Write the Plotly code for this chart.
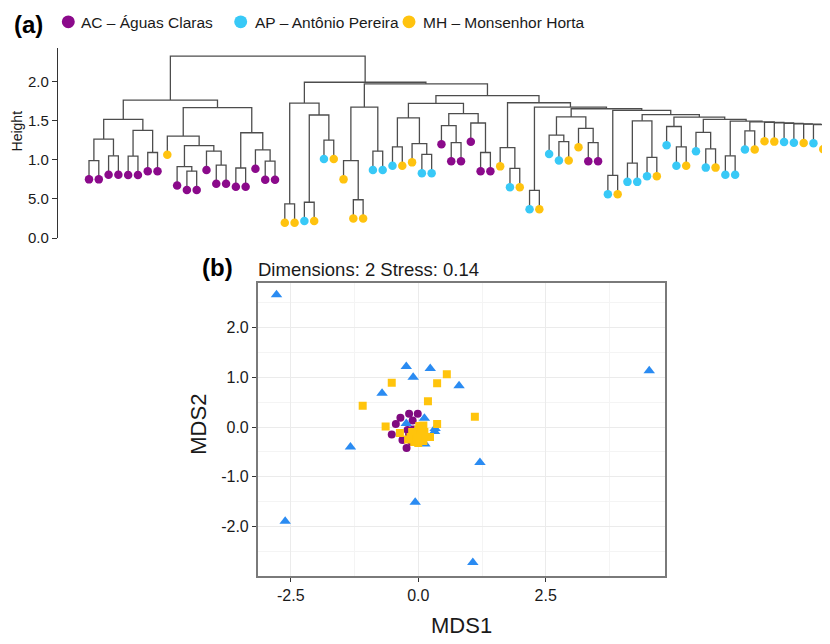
import plotly.graph_objects as go

W, H = 830, 644
FONT = "Liberation Sans, Arial, sans-serif"
OX, OY = 8, 8  # page body margin offset of the rendered html

# ---------------- data: dendrogram (a) ----------------
group_labels = {"AC": "AC – Águas Claras", "AP": "AP – Antônio Pereira", "MH": "MH – Monsenhor Horta"}
dend_colors = {"AC": "#8B0A8B", "AP": "#38C9F7", "MH": "#FFC30F"}

leaf_groups = [
    "AC", "AC", "AC", "AC", "AC", "AC", "AC", "AC", "MH", "AC",
    "AC", "AC", "AC", "AC", "AC", "AC", "AC", "AC", "AC", "AC",
    "MH", "MH", "AP", "MH", "AP", "MH", "MH", "MH", "MH", "AP",
    "AP", "AP", "MH", "MH", "AP", "AP", "AC", "AC", "AC", "AC",
    "AC", "AC", "MH", "AP", "MH", "AP", "MH", "AP", "AP", "MH",
    "MH", "AC", "AC", "AP", "MH", "AP", "AP", "AP", "MH", "AP",
    "AP", "MH", "AP", "AP", "MH", "AP", "AP", "AP", "MH", "MH",
    "MH", "AP", "AP", "MH", "AP", "MH", "MH",
]

# merge rows: child < 100 -> leaf index, child >= 100 -> merge row (child - 100)
merge_left = [0, 2, 4, 6, 100, 102, 104, 10, 9, 13,
              12, 108, 8, 15, 18, 17, 113, 112, 106,
              20, 22, 24, 120, 119, 27, 26, 29, 125, 31, 34,
              33, 128, 37, 36, 40, 39, 133, 131, 43, 42,
              45, 48, 47, 51, 50, 142, 53, 55, 57, 147,
              60, 59, 63, 62, 65, 67, 75, 74, 73, 72,
              71, 70, 69, 155, 154, 153, 151, 149, 146, 145,
              140, 139, 137, 127, 123, 118]
merge_right = [1, 3, 5, 7, 101, 103, 105, 11, 107, 14,
               109, 110, 111, 16, 19, 114, 115, 116, 117,
               21, 23, 25, 121, 122, 28, 124, 30, 126, 32, 35,
               129, 130, 38, 132, 41, 134, 135, 136, 44, 138,
               46, 49, 141, 52, 143, 144, 54, 56, 58, 148,
               61, 150, 64, 152, 66, 68, 76, 156, 157, 158,
               159, 160, 161, 162, 163, 164, 165, 166, 167, 168,
               169, 170, 171, 172, 173, 174]
merge_height = [0.99, 1.05, 1.047, 1.093, 1.265, 1.375, 1.517, 0.854, 0.912, 0.933,
                1.11, 1.18, 1.303, 0.895, 0.984, 1.126, 1.345, 1.665, 1.762,
                0.437, 0.458, 1.25, 1.572, 1.724, 0.49, 0.99, 1.11, 1.673, 1.164, 1.068,
                1.207, 1.535, 1.22, 1.437, 1.093, 1.47, 1.59, 1.72, 0.89, 1.156,
                0.61, 1.232, 1.315, 1.22, 1.40, 1.547, 0.80, 0.958, 1.03, 1.497,
                1.164, 1.425, 1.14, 1.35, 1.05, 1.37, 1.376, 1.45, 1.455, 1.458,
                1.466, 1.472, 1.477, 1.485, 1.494, 1.517, 1.545, 1.576, 1.63, 1.652,
                1.673, 1.728, 1.82, 1.97, 1.99, 2.324]
hang = 0.24
height_ticks = [0.0, 0.5, 1.0, 1.5, 2.0]
height_ticktext = ["0.0", "5.0", "1.0", "1.5", "2.0"]

# ---------------- data: NMDS (b) ----------------
mds_colors = {"AC": "#800A80", "AP": "#2A8BF2", "MH": "#FFC40C"}
mds_symbols = {"AC": "circle", "AP": "triangle-up", "MH": "square"}
ac_x = [-0.18, -0.01, -0.35, -0.11, -0.44, -0.52, -0.31, -0.23, -0.21, -0.10,
        -0.15, -0.05, 0.0, -0.08, -0.12, -0.03, 0.02, -0.06, -0.16, 0.05,
        -0.10, 0.0, -0.02, -0.13, 0.04, -0.07, -0.18]
ac_y = [0.27, 0.27, 0.19, 0.13, 0.06, -0.15, -0.26, -0.42, -0.06, -0.10,
        -0.12, -0.15, -0.20, -0.22, -0.18, -0.08, -0.12, -0.28, -0.26, -0.18,
        -0.05, -0.25, -0.30, -0.30, -0.26, -0.12, -0.15]
ap_x = [-2.78, -2.61, -1.33, -0.71, -0.235, -0.10, 0.235, 0.80, 4.53, 1.21,
        -0.06, 1.07, -0.235, 0.12, 0.33, 0.32, 0.13, 0.0, -0.05, 0.08,
        0.05, -0.10, 0.10, 0.02, -0.03]
ap_y = [2.66, -1.89, -0.40, 0.68, 1.22, 1.00, 1.18, 0.83, 1.13, -0.71,
        -1.51, -2.72, 0.07, 0.18, -0.03, -0.09, -0.34, -0.10, -0.20, -0.05,
        -0.25, -0.15, -0.20, -0.30, -0.05]
mh_x = [-1.09, -0.52, 0.37, 0.56, 0.19, 1.11, -0.64, -0.36, 0.37, 0.23,
        0.10, 0.0, -0.05, -0.15, 0.05, -0.08, 0.0, 0.12, 0.08, -0.12,
        0.02, -0.20, 0.10, -0.02, 0.06]
mh_y = [0.43, 0.89, 0.88, 1.06, 0.52, 0.21, 0.01, -0.12, 0.06, -0.20,
        0.03, -0.05, -0.15, -0.20, -0.22, -0.30, -0.32, -0.10, -0.15, -0.10,
        0.02, -0.25, -0.28, -0.22, -0.02]
mds_x_ticks = [-2.5, 0.0, 2.5]
mds_x_ticktext = ["-2.5", "0.0", "2.5"]
mds_y_ticks = [-2.0, -1.0, 0.0, 1.0, 2.0]
mds_y_ticktext = ["-2.0", "-1.0", "0.0", "1.0", "2.0"]
mds_title = "Dimensions: 2 Stress: 0.14"


# ---------------- helpers (target page px -> paper) ----------------
def px(x):
    return (x - OX) / W


def py(y):
    return 1 - (y - OY) / H


# ---------------- dendrogram geometry from merges ----------------
node_x, node_h = [], []
seg_x, seg_y = [], []
leaf_y = [0.0] * len(leaf_groups)
for a, b, h in zip(merge_left, merge_right, merge_height):
    coords = []
    for c in (a, b):
        if c < 100:
            cx, ch = float(c), h - hang
            leaf_y[c] = ch
        else:
            cx, ch = node_x[c - 100], node_h[c - 100]
        coords.append((cx, ch))
    (xa, ha), (xb, hb) = coords
    seg_x += [xa, xa, xb, xb, None]
    seg_y += [ha, h, h, hb, None]
    node_x.append((xa + xb) / 2)
    node_h.append(h)

fig = go.Figure()
fig.add_trace(go.Scatter(x=seg_x, y=seg_y, mode="lines",
                         line=dict(color="#4d4d4d", width=1.3),
                         xaxis="x", yaxis="y", showlegend=False, hoverinfo="skip"))
for g in ["AC", "AP", "MH"]:
    idx = [i for i, gg in enumerate(leaf_groups) if gg == g]
    fig.add_trace(go.Scatter(x=idx, y=[leaf_y[i] for i in idx], mode="markers",
                             marker=dict(color=dend_colors[g], size=8.5, line=dict(width=0)),
                             xaxis="x", yaxis="y", showlegend=False, cliponaxis=False,
                             name=group_labels[g]))

# ---------------- NMDS ----------------
for g, xs, ys in [("AC", ac_x, ac_y), ("AP", ap_x, ap_y), ("MH", mh_x, mh_y)]:
    fig.add_trace(go.Scatter(x=xs, y=ys, mode="markers",
                             marker=dict(color=mds_colors[g], symbol=mds_symbols[g],
                                         size=10 if g == "AP" else 8, line=dict(width=0)),
                             xaxis="x2", yaxis="y2", showlegend=False, name=group_labels[g]))

# leaf positions: leaf 0 at 89 px, spacing 9.79 px
sp = 9.79
x0px = 89
xa_left = 58
xa_right = W + OX  # right edge of figure in target px

fig.update_layout(
    width=W, height=H, autosize=False,
    margin=dict(l=0, r=0, t=0, b=0),
    paper_bgcolor="white", plot_bgcolor="white",
    font=dict(family=FONT, color="#1a1a1a"),
    xaxis=dict(domain=[px(xa_left), 1.0],
               range=[(xa_left - x0px) / sp, (xa_right - x0px) / sp],
               visible=False, fixedrange=True),
    yaxis=dict(domain=[py(241), py(48)], range=[0, (241 - 48) / 79.3],
               tickmode="array", tickvals=height_ticks, ticktext=height_ticktext,
               ticks="outside", ticklen=5, tickcolor="#333", tickwidth=1,
               showline=True, linecolor="#333", linewidth=1.2,
               showgrid=False, zeroline=False,
               tickfont=dict(size=15, color="#1a1a1a", family=FONT)),
    xaxis2=dict(domain=[px(257.7), px(665)], range=[-3.149, 4.839], anchor="y2",
                tickmode="array", tickvals=mds_x_ticks, ticktext=mds_x_ticktext,
                ticks="outside", ticklen=4, tickcolor="#333",
                showline=True, mirror=True, linecolor="#7a7a7a", linewidth=1.5,
                showgrid=True, gridcolor="#EBEBEB", gridwidth=1, zeroline=False,
                minor=dict(tickmode="array", tickvals=[-1.25, 1.25, 3.75],
                           showgrid=True, gridcolor="#F4F4F4", gridwidth=1, ticklen=0),
                tickfont=dict(size=16, color="#1a1a1a", family=FONT)),
    yaxis2=dict(domain=[py(583.3), py(286)], range=[-2.996, 2.905], anchor="x2",
                tickmode="array", tickvals=mds_y_ticks, ticktext=mds_y_ticktext,
                ticks="outside", ticklen=4, tickcolor="#333",
                showline=True, mirror=True, linecolor="#7a7a7a", linewidth=1.5,
                showgrid=True, gridcolor="#EBEBEB", gridwidth=1, zeroline=False,
                minor=dict(tickmode="array", tickvals=[-2.5, -1.5, -0.5, 0.5, 1.5, 2.5],
                           showgrid=True, gridcolor="#F4F4F4", gridwidth=1, ticklen=0),
                tickfont=dict(size=16, color="#1a1a1a", family=FONT)),
)

ann = []
shapes = []
ann.append(dict(text="<b>(a)</b>", x=px(12), y=py(25), xref="paper", yref="paper",
                xanchor="left", yanchor="middle", showarrow=False, font=dict(size=24, color="black")))
legend_pos = [("AC", 68.3, 79), ("AP", 240.7, 252.5), ("MH", 409, 421)]
for g, cx, tx in legend_pos:
    r = 6.5
    shapes.append(dict(type="circle", xref="paper", yref="paper",
                       x0=px(cx - r), x1=px(cx + r), y0=py(22 + r), y1=py(22 - r),
                       fillcolor=dend_colors[g], line=dict(width=0)))
    ann.append(dict(text=group_labels[g], x=px(tx), y=py(22.5), xref="paper", yref="paper",
                    xanchor="left", yanchor="middle", showarrow=False,
                    font=dict(size=15.5, color="#1a1a1a")))
ann.append(dict(text="Height", x=px(17), y=py(133), xref="paper", yref="paper", textangle=-90,
                xanchor="center", yanchor="middle", showarrow=False, font=dict(size=14, color="#1a1a1a")))
ann.append(dict(text="<b>(b)</b>", x=px(200), y=py(271), xref="paper", yref="paper",
                xanchor="left", yanchor="middle", showarrow=False, font=dict(size=24, color="black")))
ann.append(dict(text=mds_title, x=px(256), y=py(273), xref="paper", yref="paper",
                xanchor="left", yanchor="middle", showarrow=False, font=dict(size=18.5, color="#1a1a1a")))
ann.append(dict(text="MDS1", x=px(461), y=py(633), xref="paper", yref="paper",
                xanchor="center", yanchor="middle", showarrow=False, font=dict(size=22, color="#1a1a1a")))
ann.append(dict(text="MDS2", x=px(199), y=py(430), xref="paper", yref="paper", textangle=-90,
                xanchor="center", yanchor="middle", showarrow=False, font=dict(size=22, color="#1a1a1a")))
fig.update_layout(annotations=ann, shapes=shapes)

fig.write_html("out.html")
